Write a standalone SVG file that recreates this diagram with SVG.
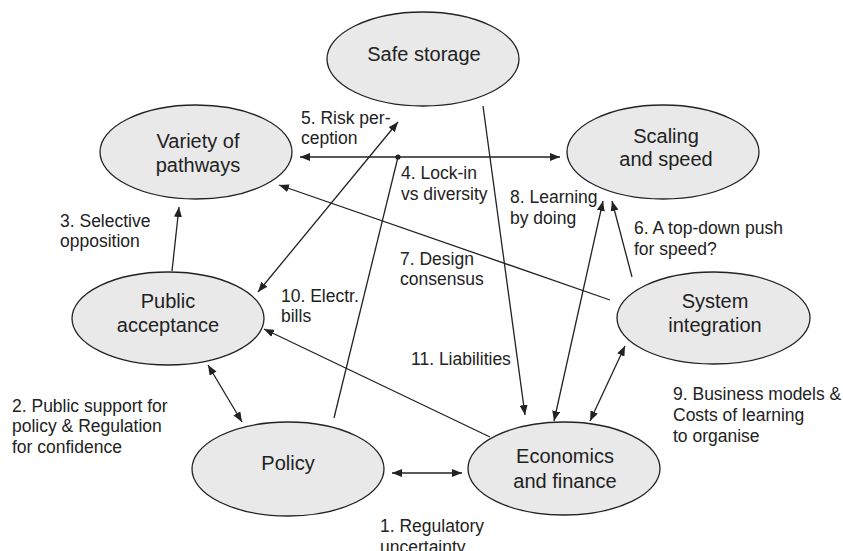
<svg xmlns="http://www.w3.org/2000/svg" width="843" height="551" viewBox="0 0 843 551">
  <style>
    .node ellipse { fill: #e9e9e9; stroke: #222; stroke-width: 1.3; }
    .node text { font-family: "Liberation Sans", Arial, sans-serif; font-size: 20px; fill: #222; text-anchor: middle; }
    .edge { stroke: #222; stroke-width: 1.3; fill: none; }
    .lbl { font-family: "Liberation Sans", Arial, sans-serif; font-size: 17.5px; fill: #222; }
  </style>
  <defs>
    <marker id="arr" markerUnits="userSpaceOnUse" markerWidth="10" markerHeight="8" refX="10" refY="4" orient="auto-start-reverse" viewBox="0 0 10 8">
      <path d="M0,0 L10,4 L0,8 z" fill="#222"/>
    </marker>
  </defs>
  <rect width="843" height="551" fill="#fff"/>

  <!-- connectors -->
  <g id="connectors">
    <!-- 1. Policy <-> Economics -->
    <line class="edge" x1="392" y1="473" x2="462" y2="473" marker-start="url(#arr)" marker-end="url(#arr)"/>
    <!-- 2. Public acceptance <-> Policy -->
    <line class="edge" x1="208" y1="365" x2="242" y2="422" marker-start="url(#arr)" marker-end="url(#arr)"/>
    <!-- 3. Public acceptance -> Variety -->
    <line class="edge" x1="172" y1="271" x2="179" y2="207" marker-end="url(#arr)"/>
    <!-- 4. Variety <-> Scaling, fed from Policy -->
    <line class="edge" x1="300" y1="157" x2="560" y2="157" marker-start="url(#arr)" marker-end="url(#arr)"/>
    <line class="edge" x1="334" y1="418" x2="398" y2="157"/>
    <circle cx="398" cy="157" r="2.6" fill="#222"/>
    <!-- 5. Risk perception -->
    <line class="edge" x1="258" y1="292" x2="398" y2="122" marker-start="url(#arr)" marker-end="url(#arr)"/>
    <!-- 6. System integration -> Scaling -->
    <line class="edge" x1="632" y1="277" x2="612" y2="201" marker-end="url(#arr)"/>
    <!-- 7. System integration -> Variety -->
    <line class="edge" x1="610" y1="300" x2="279" y2="185" marker-end="url(#arr)"/>
    <!-- 8. Economics <-> Scaling -->
    <line class="edge" x1="554" y1="421" x2="603" y2="201" marker-start="url(#arr)" marker-end="url(#arr)"/>
    <!-- 9. Economics <-> System integration -->
    <line class="edge" x1="590" y1="421" x2="625" y2="346" marker-start="url(#arr)" marker-end="url(#arr)"/>
    <!-- 10. Economics -> Public acceptance -->
    <line class="edge" x1="490" y1="437" x2="264" y2="329" marker-end="url(#arr)"/>
    <!-- 11. Safe storage -> Economics -->
    <line class="edge" x1="483" y1="106" x2="525" y2="415" marker-end="url(#arr)"/>
  </g>

  <!-- nodes -->
  <g id="safe-storage" class="node">
    <ellipse cx="423" cy="59" rx="96" ry="47"/>
    <text x="424" y="61">Safe storage</text>
  </g>
  <g id="variety" class="node">
    <ellipse cx="196" cy="152" rx="96" ry="47"/>
    <text x="198" y="148">Variety of</text>
    <text x="198" y="172">pathways</text>
  </g>
  <g id="scaling" class="node">
    <ellipse cx="663" cy="152" rx="96" ry="47"/>
    <text x="666" y="143">Scaling</text>
    <text x="666" y="166">and speed</text>
  </g>
  <g id="public-acceptance" class="node">
    <ellipse cx="168" cy="318.5" rx="96" ry="46.5"/>
    <text x="168" y="308">Public</text>
    <text x="168" y="332">acceptance</text>
  </g>
  <g id="system-integration" class="node">
    <ellipse cx="713.5" cy="318" rx="96.5" ry="46"/>
    <text x="715" y="308">System</text>
    <text x="715" y="332">integration</text>
  </g>
  <g id="policy" class="node">
    <ellipse cx="288" cy="469" rx="96" ry="47"/>
    <text x="288" y="470">Policy</text>
  </g>
  <g id="economics" class="node">
    <ellipse cx="564" cy="468.5" rx="96" ry="46.5"/>
    <text x="565" y="463">Economics</text>
    <text x="565" y="488">and finance</text>
  </g>

  <!-- connector labels -->
  <g id="labels">
    <text class="lbl" x="380" y="532">1. Regulatory</text>
    <text class="lbl" x="380" y="553">uncertainty</text>
    <text class="lbl" x="12" y="412">2. Public support for</text>
    <text class="lbl" x="12" y="432">policy &amp; Regulation</text>
    <text class="lbl" x="12" y="453">for confidence</text>
    <text class="lbl" x="60" y="227">3. Selective</text>
    <text class="lbl" x="60" y="247">opposition</text>
    <text class="lbl" x="401" y="179">4. Lock-in</text>
    <text class="lbl" x="401" y="200">vs diversity</text>
    <text class="lbl" x="301" y="124">5. Risk per-</text>
    <text class="lbl" x="301" y="144">ception</text>
    <text class="lbl" x="634" y="234">6. A top-down push</text>
    <text class="lbl" x="634" y="255">for speed?</text>
    <text class="lbl" x="400" y="265">7. Design</text>
    <text class="lbl" x="400" y="285">consensus</text>
    <text class="lbl" x="510" y="203">8. Learning</text>
    <text class="lbl" x="510" y="224">by doing</text>
    <text class="lbl" x="673" y="400">9. Business models &amp;</text>
    <text class="lbl" x="673" y="421">Costs of learning</text>
    <text class="lbl" x="673" y="442">to organise</text>
    <text class="lbl" x="281" y="302">10. Electr.</text>
    <text class="lbl" x="281" y="322">bills</text>
    <text class="lbl" x="411" y="365">11. Liabilities</text>
  </g>
</svg>
